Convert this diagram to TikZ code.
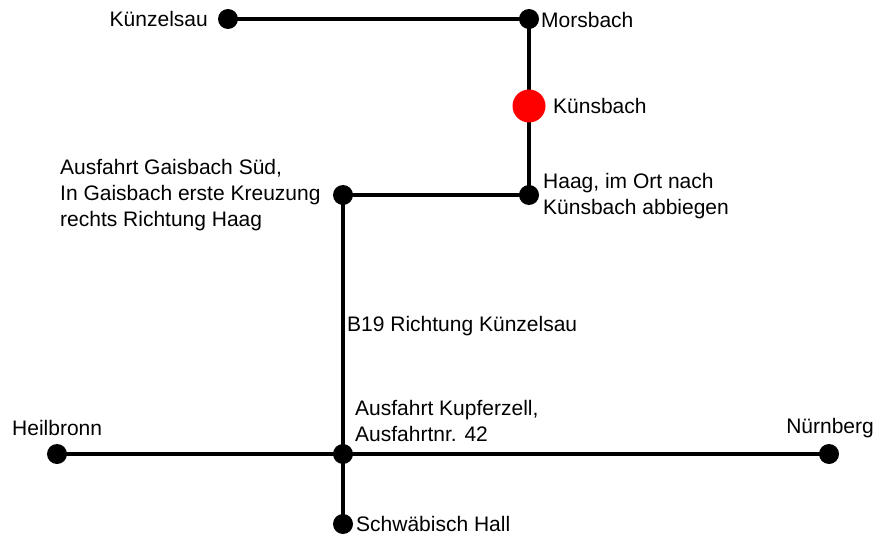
\documentclass[tikz,border=0pt]{standalone}
\usepackage{fontspec}
\setmainfont{Liberation Sans}
\usetikzlibrary{backgrounds}
\begin{document}
\begin{tikzpicture}[x=1pt,y=-1pt,
  dot/.style={circle,fill=black,inner sep=0pt,minimum size=20pt},
  lbl/.style={font=\fontsize{21}{26}\selectfont,inner sep=0pt,align=left},
  road/.style={line width=4pt}]
\useasboundingbox (0,0) rectangle (886,548);
\node[dot] (kue) at (228,19) {};
\node[dot] (mor) at (529,19) {};
\node[circle,fill=red,inner sep=0pt,minimum size=33pt] (kb) at (529,106) {};
\node[dot] (haa) at (529,195) {};
\node[dot] (gai) at (343,195) {};
\node[dot] (kup) at (343,454) {};
\node[dot] (hei) at (57,454) {};
\node[dot] (nue) at (829,454) {};
\node[dot] (sha) at (343,524) {};
\begin{scope}[on background layer]
\draw[road] (kue.center) -- (mor.center) -- (kb.center) -- (haa.center) -- (gai.center) -- (kup.center) -- (sha.center);
\draw[road] (hei.center) -- (nue.center);
\end{scope}
\node[lbl,anchor=east] at (208,19) {Künzelsau};
\node[lbl,anchor=west] at (541,20) {Morsbach};
\node[lbl,anchor=west] at (553,106) {Künsbach};
\node[lbl,anchor=west] at (543,196) {Haag, im Ort nach\\Künsbach abbiegen};
\node[lbl,anchor=west] at (60,195) {Ausfahrt Gaisbach Süd,\\In Gaisbach erste Kreuzung\\rechts Richtung Haag};
\node[lbl,anchor=west] at (347,326) {B19 Richtung Künzelsau};
\node[lbl,anchor=west] at (355,421) {Ausfahrt Kupferzell,\\Ausfahrtnr. 42};
\node[lbl,anchor=west] at (12,428) {Heilbronn};
\node[lbl,anchor=east] at (874,428) {Nürnberg};
\node[lbl,anchor=west] at (356,524) {Schwäbisch Hall};
\end{tikzpicture}
\end{document}
